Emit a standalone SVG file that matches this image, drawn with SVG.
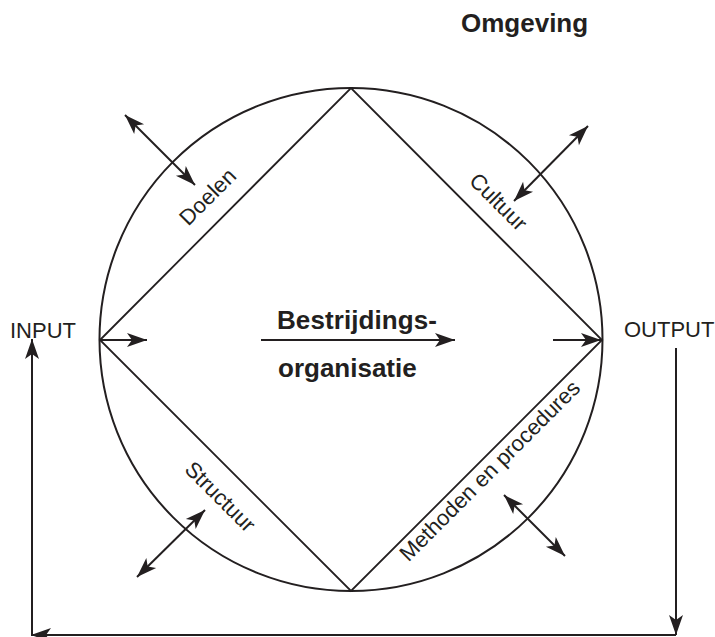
<svg xmlns="http://www.w3.org/2000/svg" width="715" height="637" viewBox="0 0 715 637">
  <style>
    .ln { stroke: #231f20; stroke-width: 2; fill: none; }
    .thin { stroke: #231f20; stroke-width: 1.8; fill: none; }
    .lbl { font-family: "Liberation Sans", Arial, sans-serif; font-size: 22px; fill: #231f20; }
    .bold { font-family: "Liberation Sans", Arial, sans-serif; font-size: 26px; font-weight: bold; fill: #231f20; }
  </style>
  <defs>
    <marker id="arrow" viewBox="-22 -9 24 18" refX="0" refY="0" markerWidth="24" markerHeight="18" markerUnits="userSpaceOnUse" orient="auto-start-reverse">
      <path d="M0,0 L-20,-7 L-15,0 L-20,7 Z" fill="#231f20"/>
    </marker>
  </defs>

  <rect width="715" height="637" fill="#ffffff"/>

  <!-- environment boundary and internal diamond -->
  <g id="organisation">
    <circle class="ln" cx="351" cy="339.5" r="251.5"/>
    <polygon class="thin" points="100,340 351,88 602,340 351,591"/>
  </g>

  <g id="title">
    <text class="bold" x="461" y="32">Omgeving</text>
  </g>

  <g id="centre">
    <text class="bold" x="277" y="329" textLength="160" lengthAdjust="spacing">Bestrijdings-</text>
    <text class="bold" x="278" y="377">organisatie</text>
  </g>

  <g id="doelen">
    <text class="lbl" x="213" y="202" text-anchor="middle" transform="rotate(-45 213 202)">Doelen</text>
  </g>
  <g id="cultuur">
    <text class="lbl" x="493" y="207" text-anchor="middle" transform="rotate(45 493 207)">Cultuur</text>
  </g>
  <g id="structuur">
    <text class="lbl" x="215" y="502" text-anchor="middle" transform="rotate(45 215 502)">Structuur</text>
  </g>
  <g id="methoden">
    <text class="lbl" x="495" y="476" text-anchor="middle" transform="rotate(-45 495 476)">Methoden en procedures</text>
  </g>

  <g id="input">
    <text class="lbl" x="10" y="338">INPUT</text>
  </g>
  <g id="output">
    <text class="lbl" x="624" y="337">OUTPUT</text>
  </g>

  <!-- connectors -->
  <g id="connectors" class="ln">
    <line x1="100" y1="340" x2="147" y2="340" marker-end="url(#arrow)"/>
    <line x1="261" y1="340" x2="455" y2="340" marker-end="url(#arrow)"/>
    <line x1="553" y1="340" x2="601" y2="340" marker-end="url(#arrow)"/>

    <line x1="125" y1="115" x2="195" y2="185" marker-start="url(#arrow)" marker-end="url(#arrow)"/>
    <line x1="588" y1="126" x2="514" y2="201" marker-start="url(#arrow)" marker-end="url(#arrow)"/>
    <line x1="205" y1="510" x2="137" y2="577" marker-start="url(#arrow)" marker-end="url(#arrow)"/>
    <line x1="504" y1="495" x2="565" y2="556" marker-start="url(#arrow)" marker-end="url(#arrow)"/>

    <!-- feedback loop from output back to input -->
    <line x1="676" y1="348" x2="676" y2="635" marker-end="url(#arrow)"/>
    <line x1="676" y1="635" x2="31" y2="635" marker-end="url(#arrow)"/>
    <line x1="32" y1="635" x2="32" y2="339" marker-end="url(#arrow)"/>
  </g>
</svg>
